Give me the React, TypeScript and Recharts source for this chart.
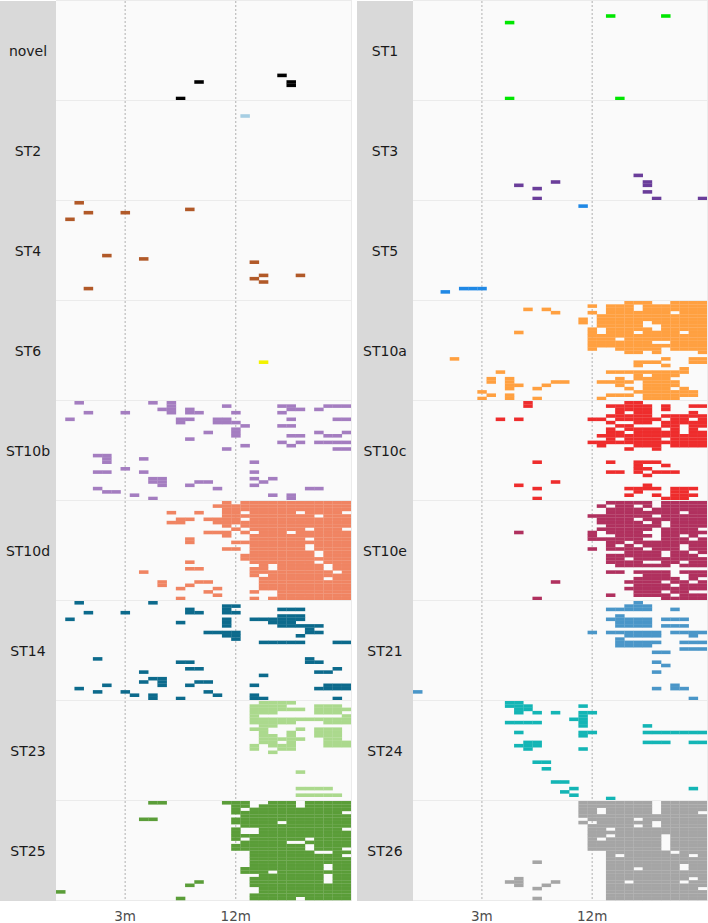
import React from 'react';
import { ScatterChart, Scatter, XAxis, YAxis, CartesianGrid } from 'recharts';

// ---- grid definition ----
const NCOL = 32;
const NROW = 30;
const xTicks = [7, 19];
const xTickLabels: Record<number, string> = { 7: '3m', 19: '12m' };

// ---- panel names & colours ----
const leftPanels = ['novel', 'ST2', 'ST4', 'ST6', 'ST10b', 'ST10d', 'ST14', 'ST23', 'ST25'];
const rightPanels = ['ST1', 'ST3', 'ST5', 'ST10a', 'ST10c', 'ST10e', 'ST21', 'ST24', 'ST26'];

const panelColors: Record<string, string> = {
  novel: '#000000', ST2: '#a6cee3', ST4: '#b15928', ST6: '#f2f200', ST10b: '#a47dc0',
  ST10d: '#f08462', ST14: '#0c6a8c', ST23: '#abd98d', ST25: '#5a9d38',
  ST1: '#00e600', ST3: '#6a3d9a', ST5: '#1f88e5', ST10a: '#ffa040', ST10c: '#ee2c2c',
  ST10e: '#b0305e', ST21: '#4a96c8', ST24: '#13b5b5', ST26: '#a5a5a5',
};

// ---- occupied cells: one string per row (top to bottom), listing column indices / ranges ----
const E = '';
const novel = [E,E,E,E,E,E,E,E,E,E,E,E,E,E,E,E,E,E,E,E,E,E,'24',E,'15 25','25',E,E,E,'13'];
const ST2 = [E,E,E,E,'20',E,E,E,E,E,E,E,E,E,E,E,E,E,E,E,E,E,E,E,E,E,E,E,E,E];
const ST4 = ['2',E,'14','3 7',E,'1',E,E,E,E,E,E,E,E,E,E,'5','9','21',E,E,E,'22 26','21','22',E,'3',E,E,E];
const ST6 = [E,E,E,E,E,E,E,E,E,E,E,E,E,E,E,E,E,E,'22',E,E,E,E,E,E,E,E,E,E,E];
const ST10b = [
  '2 10 12', '12 18 24-25 29-31', '11-12 14 25-26 28', '3 7 12 14-15 19 24', E,
  '1 13-14 17-18 25 30-31', '13 17-19', '20 24-25', '19', '16 19 28 31',
  '19 25-26 29-30', '14', '24 26 28-31', '20 25', '18 30-31',
  E, '4-5', '5 9', '5 21', E,
  '7', '4-5 9 21', E, '10-11 21 23', '10-11 15-16 22',
  '11 14 21', '4 17 27-28', '5-6', '8 23 25', '10 25',
];
const ST10d = [
  '18 20-31', '17-31', '18-31', '12 15 18-19 21-25 27-30', '18-27 29-31',
  '13-14 16-19 21-31', '12-13 17-31', '18 20-31', '19 21-26 28-30', '16-18 20 22-24 26-31',
  '18 21-31', '14 21-26 28-31', '14 19-31', '21-26 28-31', '18-19 21-26 28-31',
  '21-27 29-31', '20-27 29-31', '20-31', '14 21-27 29-31', '22 24-28 30-31',
  '14-15 21-22 24-28 30-31', '9 21-29 31', '21 23-31', '22-28 30-31', '11 15-16 22-31',
  '11 14 22-31', '13 17 22-31', '16 21 24-31', '17 24-31', '13 21 23-31',
];
const ST14 = [
  '2 10', '18-19', '14 18 24-26', '3 7 14-15 18-19', '24-26',
  '1 18 21-26', '13 18 23-25', '18 24-28', '27', '16-19 27-28',
  '18-19 26', '19', '22-26 30-31', E, E,
  E, E, '4 27', '13-14 27-28', E,
  '14-15 30', '9 28-29', '22', '10-11', '9 11 15-16',
  '5 11 14 21 29-31', '2 28-31', '4 7 16', '8 10 17 21', '10 13 21-22 30',
];
const ST23 = [
  '22-25', '21-24 28-30', '21-26 28-31', '21-23 28-30', '21 31',
  '21-31', '21-25 29-31', '22-23', '21-22 26 28-30', '22 25 28-30',
  '22-23 25 28-30', '22-23 24-26 29-30', '22-23 25 29-31', '21 23-25 29-31', '21 24-25',
  '23', E, E, E, E,
  E, '26', E, E, E,
  E, '26-29', E, '26-30', E,
];
const ST25 = [
  '10-11 18-20 23-25 27-31', '19-20 22-25 27-31', '19 21-31', '19-30', '20-31',
  '9-10 19-31', '19-23 25-31', '20-31', '19 22-30', '19 22-31',
  '19-31', '19 21-26 28-31', '20-24 27-31', '19-26 28-31', '19-26 28-30',
  '21-27 30-31', '21-30', '21-31', '21-31', '21-28 30-31',
  '20-28 30-31', '20-22 24-31', '22-28 30-31', '21-28 30-31', '15 21-28 30-31',
  '14 21-31', '22-31', '0 22-31', '21-31', '13 21-25 27-31',
];
const ST1 = [E,E,E,E,'21 27',E,'10',E,E,E,E,E,E,E,E,E,E,E,E,E,E,E,E,E,E,E,E,E,E,'10 22'];
const ST3 = [E,E,E,E,E,E,E,E,E,E,E,E,E,E,E,E,E,E,E,E,E,E,'24',E,'15 25','11 25','13','25',E,'13 26 31'];
const ST5 = [E,'18',E,E,E,E,E,E,E,E,E,E,E,E,E,E,E,E,E,E,E,E,E,E,E,E,'5-7','3',E,E];
const ST10a = [
  '23-25 28-31', '19 21-23 25-31', '12 14 21-23 25-31', '15 19 21-27 29-31', '20-31',
  '18 20-31', '18 20-24 26-31', '20-24 27-31', '19 21-25 27-31', '11 19 21-23 25-28 30-31',
  '19-31', '19-21 23-31', '19-25 28-31', '19-31', '19 22-26 28-31',
  '23-24 26 31', E, '4 27 30-31', '24-26 30-31', '24 27',
  '29', '9 21-29', '24 26-28', '8 10 22 24-27', '8 10 15-16 20-23 25-28',
  '10-11 14 22 25-28', '10 13 23 25-27 29', '7 24-30', '8 10 21-23 25-30', '7 10 13 20 25-28',
];
const ST10c = [
  '12 23-24', '12 21-25 27 30-31', '22-25 27', '22 24-25 30', '21-25 27-31',
  '9 11 19-20 22-26 28-29 31', '21 24-25 27-31', '22-23 27-28 30-31', '21 23-26 28 30', '21-22 24-28 30-31',
  '20-31', '21 23-26 28-31', '19-31', '20 24-26 28-31', '23 26',
  E, E, E, '13 21 24-26', '24 27',
  '24-25', '21-22 24 26-28', '25', E, '15',
  '11 25', '13 23-26 28-30', '24 28-29', '23 26 28-30', '13 27-29',
];
const ST10e = [
  '21-25 27-31', '20 22-23 25 27-31', '21-24 26-31', '21-28 30-31', '19-25 27-31',
  '20-23 25-31', '20-24 26 28-31', '21-26 28-31', '20-25 27-30', '11 19 21-24 27-31',
  '19 22-25 27-28 30', '19-24 27-29 31', '21-22 24-31', '21 23 25-28 30-31', '19 21-24 26-28 30-31',
  '23-26 28-29 31', '21-26 28-30', '21-22 24-31', '21-24 27-28 30-31', '22-27 29-31',
  E, '21-22 24-27 29-31', '25-27 30-31', '24-28 30', '15 23-26 28-29 31',
  '24-27 29-31', '23-31', '24-26 28-29', '21 24-27 29-31', '13 27-31',
];
const ST21 = [
  '24', '23-25', '21-25 28', E, '22',
  '21-25 27-29', '22-25', '22-25 27-29', E, '19 21-26 28-31',
  '23-26 30', '22', '22-26 29-31', '22-25', '29-31',
  '26-27', E, E, '26', '27',
  E, '26', E, E, E,
  '28', '26 28-29', '0', E, '30',
];
const ST24 = [
  '10-11', '10-12 18', '11-12', '11 13 15 18-19', '18',
  '17-18', '10-13 18', '18 25', E, '11 18-19 25-31',
  '18', E, '12-13 25-27 30-31', '11-13', '12 18',
  E, E, E, '13-14', E,
  '14', E, E, E, '15-16',
  E, '17 30', '16', '17', '21',
];
const ST26 = [
  '18-25 27-31', '18-25 27-31', '18-19 21-25 27-31', '18-19 21-25 27-30', '18-31',
  '19-23 25-31', '18 20-25 27-31', '19-23 25 27-31', '19-20 22-31', '19-31',
  '19-20 22-26 28-31', '19 21-26 28-31', '19-26 28-31', '19-26 28-31', '19-26 28-31',
  '21-27 29-31', '21 23-29 31', '21-31', '13 21-31', '21-28 30-31',
  '21-23 25-28 30-31', '21-31', '21-31', '11 21-29 31', '10-11 15 21-22 24-28 30-31',
  '11 14 21-31', '13 21-30', '21-31', '21-31', '13 21-31',
];

const panelRows: Record<string, string[]> = {
  novel, ST2, ST4, ST6, ST10b, ST10d, ST14, ST23, ST25,
  ST1, ST3, ST5, ST10a, ST10c, ST10e, ST21, ST24, ST26,
};

function toCells(rows: string[]) {
  const out: { x: number; y: number }[] = [];
  rows.forEach((s, r) => {
    s.split(/\s+/).filter(Boolean).forEach((tok) => {
      const [a, b] = tok.split('-').map(Number);
      const end = b === undefined ? a : b;
      for (let c = a; c <= end; c++) out.push({ x: c, y: r });
    });
  });
  return out;
}

// ---- layout ----
const FONT = '"DejaVu Sans", Verdana, sans-serif';
const PANEL_H = 99;
const STEP = 100;
const TOP = 1;
const AXIS_H = 24;

function Panel({ name, width, showAxis }: { name: string; width: number; showAxis: boolean }) {
  const data = toCells(panelRows[name]);
  const color = panelColors[name];
  const cw = width / NCOL;
  const ch = PANEL_H / NROW;
  const h = PANEL_H + (showAxis ? AXIS_H : 0);
  const gen = (props: any) => {
    const xa = props && props.xAxis;
    if (xa && typeof xa.scale === 'function') return xTicks.map((t) => xa.scale(t));
    return xTicks.map((t) => ((t + 0.5) / NCOL) * width);
  };
  const ov = 0.3;
  return (
    <ScatterChart width={width} height={h} margin={{ top: 0, right: 0, bottom: 0, left: 0 }}>
      <CartesianGrid
        horizontal={false}
        verticalCoordinatesGenerator={gen}
        stroke="#a8a8a8"
        strokeDasharray="2 2"
        strokeWidth={0.9}
        fill="#fafafa"
      />
      <XAxis
        type="number"
        dataKey="x"
        domain={[-0.5, NCOL - 0.5]}
        ticks={xTicks}
        hide={!showAxis}
        height={AXIS_H}
        axisLine={false}
        tickLine={false}
        tickMargin={5}
        interval={0}
        tick={{ fill: '#4d4d4d', fontSize: 13.5, fontFamily: FONT }}
        tickFormatter={(v: number) => xTickLabels[v] ?? ''}
      />
      <YAxis type="number" dataKey="y" domain={[-0.5, NROW - 0.5]} reversed hide />
      <Scatter
        data={data}
        isAnimationActive={false}
        shape={(p: any) => (
          <rect
            x={p.cx - cw / 2}
            y={p.cy - ch / 2}
            width={cw + ov}
            height={ch + ov}
            fill={color}
            stroke="#ffffff"
            strokeOpacity={0.08}
            strokeWidth={0.4}
          />
        )}
      />
    </ScatterChart>
  );
}

function Column({ names, stripX, plotX, plotW }: { names: string[]; stripX: number; plotX: number; plotW: number }) {
  return (
    <>
      <div style={{ position: 'absolute', left: stripX, top: 0.5, width: plotX - stripX, height: 900, background: '#d9d9d9' }} />
      <div style={{ position: 'absolute', left: plotX, top: 0, width: plotW + 1, height: 901, background: '#ebebeb' }} />
      {names.map((n, i) => (
        <React.Fragment key={n}>
          <div
            style={{
              position: 'absolute', left: stripX, top: TOP + i * STEP, width: plotX - stripX, height: PANEL_H,
              display: 'flex', alignItems: 'center', justifyContent: 'center',
              fontFamily: FONT, fontSize: 14, color: '#1a1a1a',
            }}
          >
            {n}
          </div>
          <div style={{ position: 'absolute', left: plotX, top: TOP + i * STEP, width: plotW, overflow: 'hidden' }}>
            <Panel name={n} width={plotW} showAxis={i === names.length - 1} />
          </div>
        </React.Fragment>
      ))}
    </>
  );
}

export default function App() {
  return (
    <div style={{ position: 'absolute', left: 0, top: 0, width: 708, height: 923, background: '#ffffff', overflow: 'hidden' }}>
      <Column names={leftPanels} stripX={0} plotX={56} plotW={295} />
      <Column names={rightPanels} stripX={357} plotX={413} plotW={294} />
    </div>
  );
}
